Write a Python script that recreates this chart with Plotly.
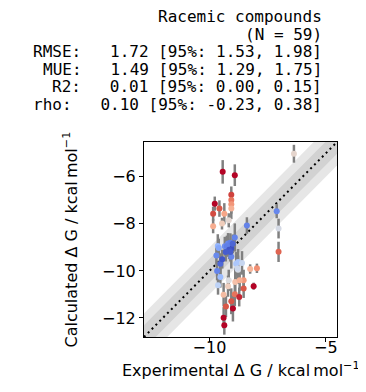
import plotly.graph_objects as go

# ---- data ----
exp_dg = [-6.37, -9.43, -8.91, -9.06, -9.06, -9.06, -9.06, -9.77, -9.57, -9.84,
          -9.36, -9.17, -9.46, -9.84, -8.39, -7.11, -7.03, -7.03, -8.91, -9.64,
          -9.34, -9.20, -9.10, -9.06, -9.25, -9.70, -9.06, -9.53, -8.77, -8.60,
          -8.25, -7.96, -9.67, -9.53, -9.63, -9.17, -8.89, -8.77, -8.53, -8.10,
          -8.53, -9.39, -8.91, -8.72, -9.06, -9.29, -8.99, -9.39, -9.36, -9.60,
          -9.15, -9.10, -8.85, -8.70, -9.00, -9.30, -8.80, -9.45, -9.20]
calc_dg = [-5.02, -5.79, -5.93, -6.76, -6.99, -7.17, -7.35, -7.14, -7.35, -7.57,
           -7.57, -7.85, -7.99, -8.10, -8.07, -7.46, -8.20, -9.19, -8.58, -8.94,
           -8.95, -8.84, -8.80, -9.05, -8.95, -9.34, -9.40, -9.70, -9.62, -9.66,
           -9.92, -9.89, -10.00, -10.26, -10.61, -10.40, -10.47, -9.95, -10.40, -10.65,
           -10.75, -11.01, -10.99, -11.11, -11.29, -11.51, -11.60, -11.99, -12.31, -9.03,
           -9.10, -9.20, -9.70, -10.40, -8.85, -9.20, -9.90, -9.50, -10.65]
calc_err = [0.38, 0.50, 0.46, 0.35, 0.35, 0.40, 0.45, 0.30, 0.35, 0.30,
            0.45, 0.30, 0.25, 0.30, 0.35, 0.30, 0.42, 0.43, 0.60, 0.50,
            0.40, 0.45, 0.40, 0.35, 0.45, 0.40, 0.50, 0.45, 0.55, 0.50,
            0.20, 0.20, 0.40, 0.45, 0.40, 0.45, 0.60, 0.60, 0.45, 0.15,
            0.40, 0.50, 0.50, 0.40, 0.55, 0.45, 0.55, 0.45, 0.40, 0.40,
            0.40, 0.40, 0.50, 0.45, 0.40, 0.40, 0.50, 0.40, 0.45]

title_lines = ["Racemic compounds", "(N = 59)"]
stat_names = ["RMSE", "MUE", "R2", "rho"]
stat_vals = [1.72, 1.49, 0.01, 0.10]
stat_lo = [1.53, 1.29, 0.00, -0.23]
stat_hi = [1.98, 1.75, 0.15, 0.38]

x_ticks = [-10, -5]
y_ticks = [-12, -10, -8, -6]

# ---- derived ----
ax_min = min(min(exp_dg), min(calc_dg)) - 0.5
ax_max = max(max(exp_dg), max(calc_dg)) + 0.5
scale = [ax_min - 1, ax_max + 1]
abs_err = [abs(c - e) for c, e in zip(calc_dg, exp_dg)]

coolwarm = [
    [0.0, "#3b4cc0"], [0.1, "#5977e3"], [0.2, "#7b9ff9"], [0.3, "#9ebeff"],
    [0.4, "#c0d4f5"], [0.5, "#dddcdc"], [0.6, "#f2cbb7"], [0.7, "#f7ac8e"],
    [0.8, "#ee8468"], [0.9, "#d65244"], [1.0, "#b40426"],
]

fig = go.Figure()

for w in (1.0, 0.5):
    fig.add_trace(go.Scatter(
        x=[scale[0], scale[1], scale[1], scale[0], scale[0]],
        y=[scale[0] - w, scale[1] - w, scale[1] + w, scale[0] + w, scale[0] - w],
        mode="lines", line=dict(width=0), fill="toself",
        fillcolor="rgba(128,128,128,0.2)", hoverinfo="skip", showlegend=False))

fig.add_trace(go.Scatter(
    x=[ax_min, ax_max], y=[ax_min, ax_max], mode="lines",
    line=dict(color="black", width=2, dash="2px,3.5px"), showlegend=False))

fig.add_trace(go.Scatter(
    x=exp_dg, y=calc_dg, mode="markers",
    marker=dict(size=2, opacity=0),
    error_y=dict(type="data", array=calc_err, color="grey", thickness=2.5, width=0),
    showlegend=False))

fig.add_trace(go.Scatter(
    x=exp_dg, y=calc_dg, mode="markers",
    marker=dict(size=6, color=abs_err, colorscale=coolwarm, cmin=0, cmax=2.5,
                line=dict(width=0)),
    showlegend=False))

axis_common = dict(
    range=[ax_min, ax_max], showgrid=False, zeroline=False, showline=True,
    mirror=True, linecolor="black", linewidth=1, ticks="outside", ticklen=4,
    tickcolor="black", tickfont=dict(family="DejaVu Sans", size=16, color="black"),
)
fig.update_xaxes(tickvals=x_ticks, ticklabelstandoff=-8, **axis_common)
fig.update_yaxes(tickvals=y_ticks, **axis_common)

L, R, T, B = 136, 37, 134, 63
W, H = 366, 392
plot_h = H - T - B

annotations = []
lines = list(title_lines) + [
    f"{n}:   {v:.2f} [95%: {lo:.2f}, {hi:.2f}]"
    for n, v, lo, hi in zip(stat_names, stat_vals, stat_lo, stat_hi)
]
centers = [8.5, 26, 43.5, 61, 78.5, 96]
for txt, c in zip(lines, centers):
    annotations.append(dict(
        text=txt.replace(" ", "\u00a0"), xref="paper", yref="paper",
        x=1, xshift=-13, xanchor="right",
        y=1 + (T - c) / plot_h, yanchor="middle", showarrow=False,
        font=dict(family="DejaVu Sans Mono", size=16, color="black")))

annotations.append(dict(
    text="Calculated Δ G / kcal\u2009mol<sup>−1</sup>", xref="paper", yref="paper",
    x=0, xshift=-73, y=0.5, xanchor="center", yanchor="middle", textangle=-90,
    showarrow=False, font=dict(family="DejaVu Sans", size=16, color="black")))
annotations.append(dict(
    text="Experimental Δ G / kcal\u2009mol<sup>−1</sup>", xref="paper", yref="paper",
    x=0.5, y=0, yshift=-32, xanchor="center", yanchor="middle",
    showarrow=False, font=dict(family="DejaVu Sans", size=16, color="black")))

fig.update_layout(
    width=W, height=H, margin=dict(l=L, r=R, t=T, b=B),
    plot_bgcolor="white", paper_bgcolor="white", showlegend=False,
    annotations=annotations,
)

fig.write_html("out.html")
